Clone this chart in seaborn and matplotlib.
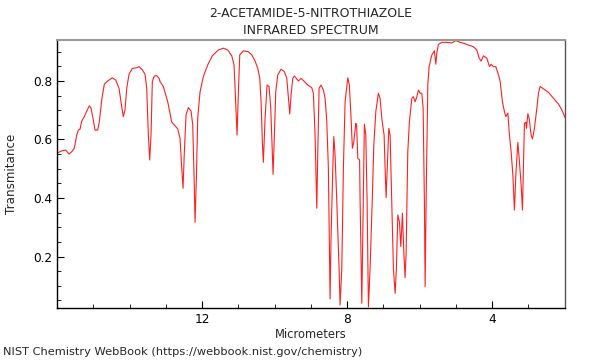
import matplotlib
matplotlib.use("Agg")
import matplotlib.pyplot as plt
import seaborn as sns
from matplotlib.ticker import MultipleLocator

# IR spectrum (wavelength in micrometers)
wavelength_um = [
    16.0, 15.87, 15.76, 15.669, 15.594, 15.523, 15.457, 15.412, 15.366, 15.319,
    15.247, 15.181, 15.109, 15.062, 14.999, 14.952, 14.877, 14.833, 14.767, 14.695,
    14.601, 14.474, 14.381, 14.29, 14.215, 14.171, 14.124, 14.077, 14.014, 13.923,
    13.801, 13.738, 13.647, 13.572, 13.526, 13.481, 13.443, 13.407, 13.371, 13.316,
    13.25, 13.186, 13.159, 13.068, 12.946, 12.836, 12.745, 12.67, 12.607, 12.56,
    12.524, 12.488, 12.441, 12.378, 12.303, 12.257, 12.221, 12.193, 12.157, 12.119,
    12.055, 11.964, 11.843, 11.716, 11.55, 11.412, 11.291, 11.181, 11.117, 11.081,
    11.034, 11.007, 10.96, 10.861, 10.723, 10.629, 10.538, 10.463, 10.408, 10.372,
    10.337, 10.309, 10.262, 10.207, 10.152, 10.105, 10.061, 10.041, 10.006, 9.967,
    9.912, 9.821, 9.73, 9.663, 9.619, 9.581, 9.545, 9.498, 9.454, 9.388,
    9.343, 9.269, 9.178, 9.084, 8.974, 8.93, 8.883, 8.836, 8.808, 8.772,
    8.717, 8.654, 8.607, 8.56, 8.516, 8.491, 8.469, 8.441, 8.394, 8.367,
    8.331, 8.284, 8.221, 8.193, 8.146, 8.102, 8.055, 7.981, 7.937, 7.89,
    7.854, 7.815, 7.76, 7.738, 7.705, 7.655, 7.641, 7.594, 7.567, 7.523,
    7.484, 7.448, 7.412, 7.366, 7.302, 7.263, 7.208, 7.137, 7.09, 7.043,
    6.979, 6.952, 6.924, 6.888, 6.85, 6.814, 6.767, 6.723, 6.676, 6.64,
    6.601, 6.557, 6.519, 6.474, 6.436, 6.4, 6.372, 6.326, 6.281, 6.215,
    6.171, 6.124, 6.077, 6.033, 5.986, 5.939, 5.903, 5.868, 5.848, 5.821,
    5.774, 5.738, 5.663, 5.592, 5.553, 5.526, 5.481, 5.388, 5.25, 5.112,
    5.001, 4.883, 4.792, 4.654, 4.516, 4.422, 4.359, 4.303, 4.24, 4.146,
    4.074, 4.028, 3.964, 3.898, 3.826, 3.779, 3.716, 3.661, 3.622, 3.567,
    3.523, 3.476, 3.429, 3.385, 3.346, 3.291, 3.247, 3.2, 3.164, 3.137,
    3.109, 3.07, 3.054, 3.015, 2.979, 2.924, 2.888, 2.833, 2.767, 2.723,
    2.676, 2.585, 2.447, 2.309, 2.171, 2.077, 1.99,
]
transmittance = [
    0.553, 0.561, 0.564, 0.55, 0.558, 0.57, 0.615, 0.632, 0.635, 0.663,
    0.678, 0.697, 0.715, 0.707, 0.667, 0.632, 0.632, 0.661, 0.735, 0.789,
    0.8, 0.811, 0.803, 0.775, 0.712, 0.678, 0.701, 0.775, 0.823, 0.843,
    0.845, 0.849, 0.838, 0.823, 0.775, 0.615, 0.53, 0.615, 0.798, 0.817,
    0.818, 0.809, 0.798, 0.781, 0.729, 0.659, 0.647, 0.636, 0.604, 0.502,
    0.433, 0.558, 0.684, 0.709, 0.697, 0.65, 0.479, 0.317, 0.467, 0.672,
    0.763, 0.815, 0.855, 0.886, 0.906, 0.912, 0.906, 0.886, 0.855, 0.752,
    0.615, 0.729, 0.889, 0.903, 0.9, 0.889, 0.868, 0.843, 0.809, 0.729,
    0.592, 0.522, 0.672, 0.786, 0.781, 0.707, 0.558, 0.481, 0.615, 0.763,
    0.821, 0.84, 0.832, 0.809, 0.741, 0.687, 0.752, 0.809, 0.817, 0.807,
    0.8, 0.809, 0.798, 0.786, 0.777, 0.758, 0.615, 0.365, 0.558, 0.775,
    0.786, 0.769, 0.741, 0.661, 0.502, 0.256, 0.055, 0.273, 0.502, 0.61,
    0.547, 0.387, 0.16, 0.034, 0.16, 0.502, 0.729, 0.811, 0.786, 0.672,
    0.57, 0.592, 0.655, 0.65, 0.536, 0.53, 0.387, 0.04, 0.273, 0.652,
    0.615, 0.387, 0.028, 0.16, 0.41, 0.581, 0.695, 0.758, 0.741, 0.672,
    0.615, 0.502, 0.401, 0.513, 0.638, 0.615, 0.387, 0.16, 0.074, 0.16,
    0.342, 0.319, 0.234, 0.348, 0.216, 0.128, 0.216, 0.558, 0.661, 0.741,
    0.746, 0.729, 0.746, 0.769, 0.758, 0.758, 0.707, 0.387, 0.097, 0.387,
    0.786, 0.849, 0.889, 0.903, 0.857, 0.895, 0.925, 0.932, 0.932, 0.93,
    0.938, 0.932, 0.929, 0.923, 0.917, 0.906, 0.878, 0.868, 0.886, 0.878,
    0.849, 0.857, 0.849, 0.849, 0.821, 0.798, 0.729, 0.695, 0.678, 0.69,
    0.615, 0.558, 0.479, 0.359, 0.479, 0.59, 0.524, 0.444, 0.359, 0.502,
    0.655, 0.659, 0.638, 0.688, 0.672, 0.615, 0.602, 0.638, 0.707, 0.758,
    0.781, 0.773, 0.761, 0.741, 0.721, 0.701, 0.675,
]
x_ticks = [12, 8, 4]

sns.set_theme(style="ticks")
plt.rcParams['font.family'] = ['DejaVu Sans']

fig = plt.figure(figsize=(6, 3.6), dpi=100)
ax = fig.add_axes([0.095, 0.1436, 0.8467, 0.7453])

sns.lineplot(x=wavelength_um, y=transmittance, sort=False, estimator=None,
             color='#ff2020', linewidth=0.8, ax=ax)

ax.set_xlim(16.0, 1.99)
ax.set_ylim(0.023, 0.940)

ax.set_xticks(x_ticks)
ax.xaxis.set_minor_locator(MultipleLocator(1))
ax.yaxis.set_major_locator(MultipleLocator(0.2))
ax.yaxis.set_minor_locator(MultipleLocator(0.05))
ax.tick_params(which='both', direction='in', labelsize=8.7, colors='black')
ax.tick_params(which='major', length=5, width=0.8)
ax.tick_params(which='minor', length=3, width=0.6)

for side in ['left', 'bottom']:
    ax.spines[side].set_color('black')
    ax.spines[side].set_linewidth(1)
ax.spines['top'].set_color('#999999')
ax.spines['top'].set_linewidth(1.5)
ax.spines['right'].set_color('#555555')
ax.spines['right'].set_linewidth(1)

ax.set_xlabel('Micrometers', fontsize=8.3, labelpad=1)
ax.set_ylabel('Transmitance', fontsize=8.6, labelpad=11)
ax.set_title('2-ACETAMIDE-5-NITROTHIAZOLE\nINFRARED SPECTRUM', fontsize=9,
             linespacing=1.45, pad=4)

fig.text(0.005, 1 - 352 / 360, 'NIST Chemistry WebBook (https://webbook.nist.gov/chemistry)',
         fontsize=8.2, va='center', ha='left')

fig.savefig('out.png', dpi=100)
